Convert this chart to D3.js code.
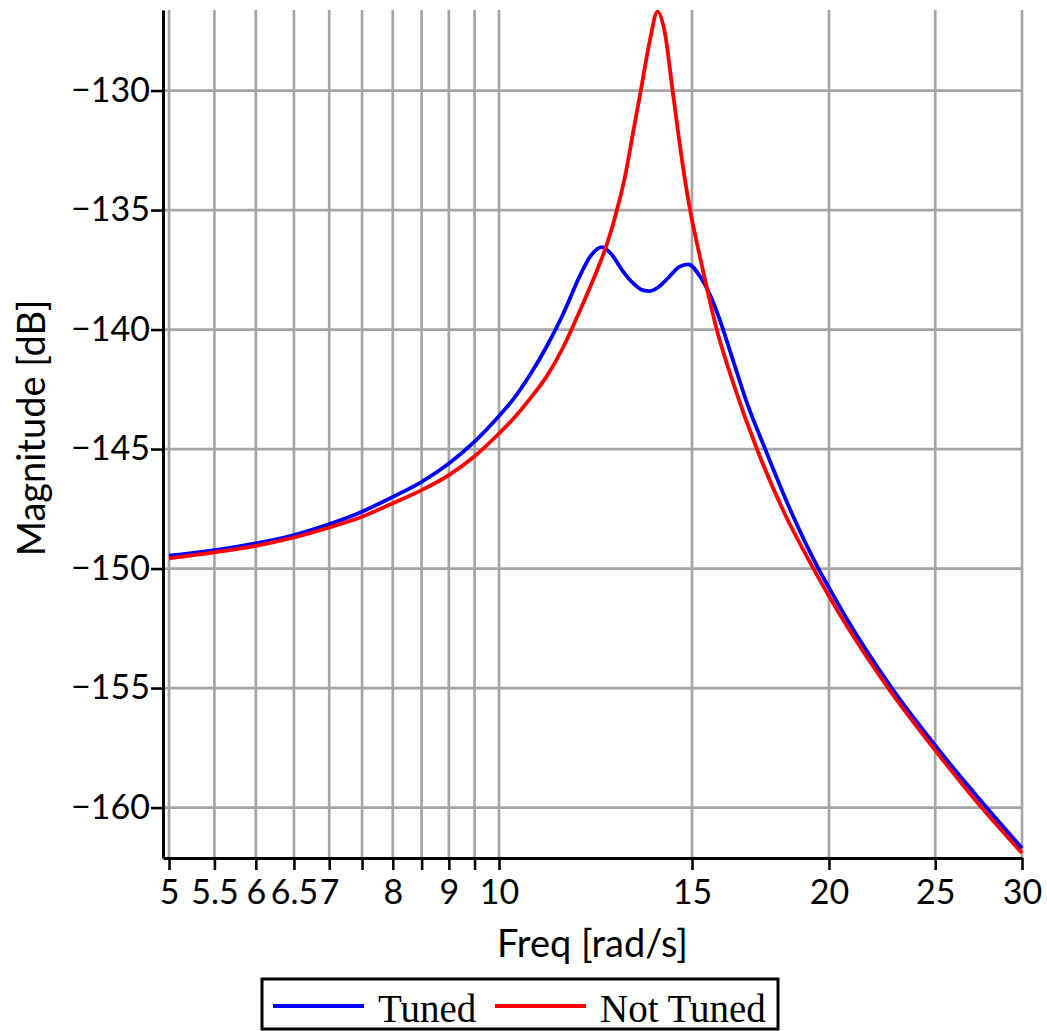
<!DOCTYPE html>
<html><head><meta charset="utf-8">
<script src="https://cdn.jsdelivr.net/npm/d3@7"></script>
<style>body{margin:0;background:#fff}</style>
</head><body>
<svg id="chart" width="1047" height="1031"></svg>
<script>
const freqTuned = [5, 5.5, 6, 6.5, 7, 7.5, 8, 8.5, 9, 9.5, 10, 10.31, 10.67, 11.05, 11.45, 11.86, 12.11, 12.41, 12.66, 12.95, 13.26, 13.52, 13.73, 14.0, 14.3, 14.6, 14.88, 15.26, 15.58, 15.86, 16.3, 16.8, 17.49, 18.42, 19.56, 20, 20.76, 22.82, 25, 27.85, 30];
const magTuned = [-149.46, -149.23, -148.95, -148.60, -148.14, -147.62, -147.00, -146.37, -145.60, -144.69, -143.62, -142.90, -141.90, -140.72, -139.32, -137.72, -136.95, -136.55, -136.84, -137.51, -138.07, -138.35, -138.39, -138.2, -137.79, -137.38, -137.27, -137.79, -138.56, -139.45, -141.1, -142.95, -145.0, -147.5, -150.0, -150.8, -152.1, -155.0, -157.4, -160.0, -161.7];
const freqNotTuned = [5, 5.5, 6, 6.5, 7, 7.5, 8, 8.5, 9, 9.5, 10, 10.31, 10.67, 11.05, 11.45, 11.86, 12.28, 12.54, 12.81, 13.03, 13.26, 13.47, 13.73, 13.95, 14.17, 14.40, 14.73, 14.94, 15.26, 15.58, 15.80, 16.36, 17.19, 18.18, 19.36, 20, 20.54, 22.65, 25, 27.56, 30];
const magNotTuned = [-149.57, -149.32, -149.05, -148.70, -148.28, -147.83, -147.27, -146.72, -146.09, -145.30, -144.35, -143.72, -142.90, -141.97, -140.72, -139.18, -137.55, -136.45, -135.0, -133.6, -131.7, -130.0, -127.9, -126.7, -127.6, -130.0, -133.3, -135.0, -137.0, -138.85, -140.0, -142.25, -145.0, -147.6, -150.0, -151.15, -152.05, -155.0, -157.6, -160.0, -161.9];
const xTickValues = [5, 5.5, 6, 6.5, 7, 7.5, 8, 8.5, 9, 9.5, 10, 15, 20, 25, 30];
const xTickLabels = ["5", "5.5", "6", "6.5", "7", "", "8", "", "9", "", "10", "15", "20", "25", "30"];
const yTickValues = [-130, -135, -140, -145, -150, -155, -160];
const yTickLabels = ["\u2212130", "\u2212135", "\u2212140", "\u2212145", "\u2212150", "\u2212155", "\u2212160"];
const seriesNames = ["Tuned", "Not Tuned"];
const seriesColors = ["#0000ff", "#ff0000"];
const xTitle = "Freq [rad/s]";
const yTitle = "Magnitude [dB]";

const svg = d3.select("#chart");
svg.append("rect").attr("width", 1047).attr("height", 1031).attr("fill", "#fff");
const L = 163, R = 1022, T = 10, B = 858;
const x = d3.scaleLog().domain([4.937, 30]).range([L, R]);
const y = d3.scaleLinear().domain([-162.11, -126.63]).range([B, T]);
const gridColor = "#a6a6a6";

svg.append("g").selectAll("line").data(xTickValues).join("line")
  .attr("x1", d => x(d)).attr("x2", d => x(d)).attr("y1", T).attr("y2", B)
  .attr("stroke", gridColor).attr("stroke-width", 2.7);
svg.append("g").selectAll("line").data(yTickValues).join("line")
  .attr("x1", L).attr("x2", R).attr("y1", d => y(d)).attr("y2", d => y(d))
  .attr("stroke", gridColor).attr("stroke-width", 2.7);

const series = [
  freqTuned.map((f, i) => [f, magTuned[i]]),
  freqNotTuned.map((f, i) => [f, magNotTuned[i]])
];
const line = d3.line().x(d => x(d[0])).y(d => y(d[1])).curve(d3.curveMonotoneX);
svg.append("g").selectAll("path").data(series).join("path")
  .attr("d", line).attr("fill", "none")
  .attr("stroke", (d, i) => seriesColors[i]).attr("stroke-width", 3.8)
  .attr("stroke-linejoin", "round");

const xAxis = d3.axisBottom(x).tickValues(xTickValues)
  .tickFormat((d, i) => xTickLabels[i]).tickSize(12).tickPadding(10).tickSizeOuter(0);
const gx = svg.append("g").attr("transform", `translate(0,${B})`).call(xAxis);
const yAxis = d3.axisLeft(y).tickValues(yTickValues)
  .tickFormat((d, i) => yTickLabels[i]).tickSize(12).tickPadding(1).tickSizeOuter(0);
const gy = svg.append("g").attr("transform", `translate(${L},0)`).call(yAxis);
[gx, gy].forEach(g => {
  g.attr("font-family", "Lato, sans-serif").attr("font-size", 34);
  g.select(".domain").attr("stroke", "#000").attr("stroke-width", 3);
  g.selectAll(".tick line").attr("stroke", "#000").attr("stroke-width", 2.6);
  g.selectAll(".tick text").attr("fill", "#000");
});

svg.append("text").attr("x", (L + R) / 2).attr("y", 957).attr("text-anchor", "middle")
  .attr("font-family", "Lato, sans-serif").attr("font-size", 38).text(xTitle);
svg.append("text").attr("transform", "translate(45,428) rotate(-90)").attr("text-anchor", "middle")
  .attr("font-family", "Lato, sans-serif").attr("font-size", 38).text(yTitle);

const lg = svg.append("g");
lg.append("rect").attr("x", 262).attr("y", 979).attr("width", 516).attr("height", 50)
  .attr("fill", "#fff").attr("stroke", "#000").attr("stroke-width", 3);
const legendX = [273, 495];
seriesNames.forEach((name, i) => {
  lg.append("line").attr("x1", legendX[i]).attr("x2", legendX[i] + 91)
    .attr("y1", 1006).attr("y2", 1006).attr("stroke", seriesColors[i]).attr("stroke-width", 4);
  lg.append("text").attr("x", legendX[i] + 105).attr("y", 1022)
    .attr("font-family", "'Liberation Serif', 'Times New Roman', serif").attr("font-size", 39)
    .text(name);
});
</script>
</body></html>
